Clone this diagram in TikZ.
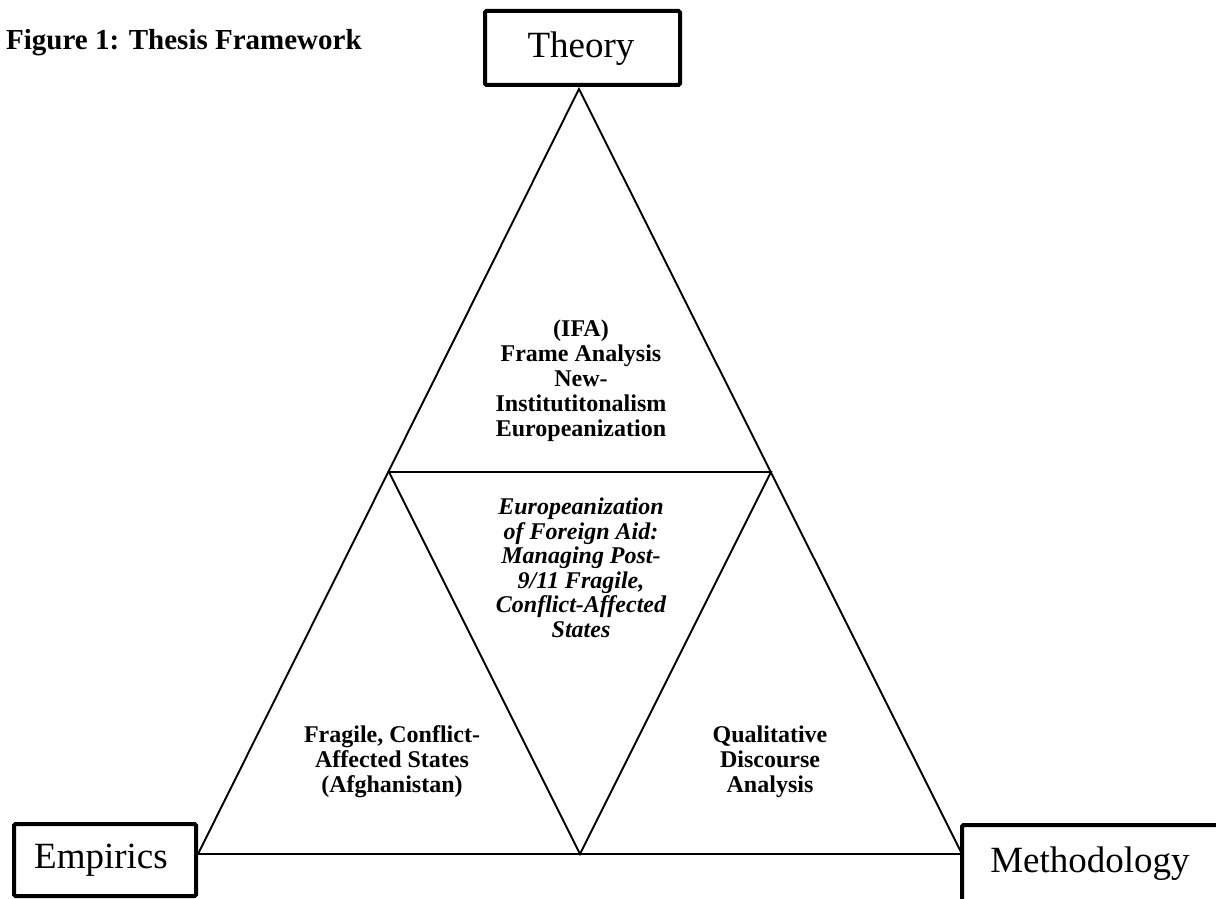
\documentclass[tikz,border=0pt]{standalone}
\usepackage{fontspec}
\setmainfont{Liberation Serif}[Ligatures=CommonOff]
\begin{document}
\begin{tikzpicture}[x=1pt,y=-1pt,
  frame/.style={draw,line width=4pt,rounded corners=1.5pt,inner sep=0pt},
  edge/.style={line width=1.9pt,line join=miter},
  bigtext/.style={font=\fontsize{37}{40}\selectfont},
  block/.style={align=center,anchor=base,inner sep=0pt,font=\fontsize{24}{25}\selectfont\bfseries},
  iblock/.style={block,font=\fontsize{24}{24.5}\selectfont\bfseries\itshape}]
\useasboundingbox (0,0) rectangle (1216,899);
\clip (0,0) rectangle (1216,899);
% title
\node[anchor=base west,inner sep=0pt,font=\fontsize{29}{31}\selectfont\bfseries] (title) at (6,50) {Figure 1: Thesis Framework};
% boxes
\node[frame,minimum width=195pt,minimum height=74pt] (theory) at (582.5,48) {};
\node[bigtext,anchor=base,inner sep=0pt] (theorytxt) at (581,58) {Theory};
\node[frame,minimum width=182pt,minimum height=72pt] (empirics) at (105,860) {};
\node[bigtext,anchor=base,inner sep=0pt] (empiricstxt) at (101,868) {Empirics};
\node[frame,minimum width=280pt,minimum height=110pt] (method) at (1102,880) {};
\node[bigtext,anchor=base,inner sep=0pt] (methodtxt) at (1090,872) {Methodology};
% triangle vertices
\coordinate (A) at (579,89);
\coordinate (L) at (198,854);
\coordinate (R) at (962,854);
\coordinate (ML) at (389,472);
\coordinate (MR) at (771,472);
\coordinate (MB) at (580,854);
\draw[edge] (A) -- (L) -- (R) -- cycle;
\draw[edge] (ML) -- (MR) -- (MB) -- cycle;
% texts (anchor base = last line baseline)
\node[block] (top) at (581,436) {(IFA)\\Frame Analysis\\New-\\Institutitonalism\\Europeanization};
\node[iblock] (mid) at (581,637) {Europeanization\\of Foreign Aid:\\Managing Post-\\9/11 Fragile,\\Conflict-Affected\\States};
\node[block] (left) at (392,792) {Fragile, Conflict-\\Affected States\\(Afghanistan)};
\node[block] (right) at (770,792) {Qualitative\\Discourse\\Analysis};
\end{tikzpicture}
\end{document}
